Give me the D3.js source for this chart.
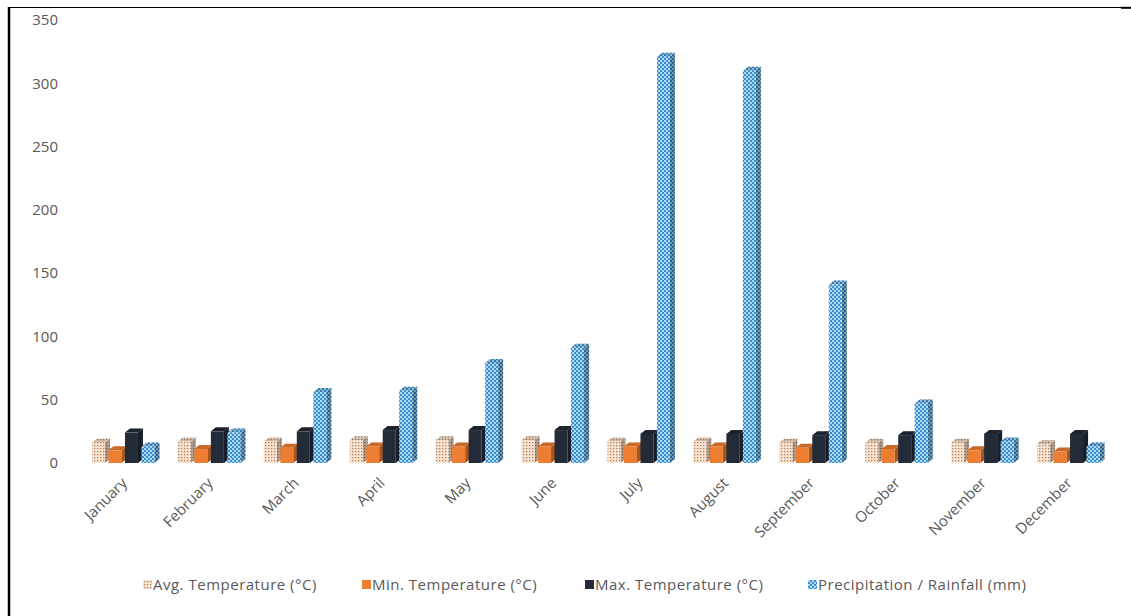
<!DOCTYPE html>
<html>
<head>
<meta charset="utf-8">
<script src="https://cdn.jsdelivr.net/npm/d3@7/dist/d3.min.js"></script>
<style>
  html, body { margin: 0; padding: 0; background: #ffffff; }
  svg { display: block; font-family: "Open Sans", "Noto Sans", sans-serif; }
</style>
</head>
<body>
<svg id="chart" width="1131" height="616"></svg>
<script>
// Monthly climate figures
const months = ["January", "February", "March", "April", "May", "June",
                "July", "August", "September", "October", "November", "December"];
const seriesNames = ["Avg. Temperature (°C)", "Min. Temperature (°C)",
                     "Max. Temperature (°C)", "Precipitation / Rainfall (mm)"];
const avgTemp = [16, 17, 17, 18, 18, 18, 17, 17, 16, 16, 16, 15];
const minTemp = [10, 11, 12, 13, 13, 13, 13, 13, 12, 11, 10, 9];
const maxTemp = [24, 25, 25, 26, 26, 26, 23, 23, 22, 22, 23, 23];
const rainfall = [13, 24, 56, 57, 79, 91, 321, 310, 141, 47, 17, 13];
const yTicks = [0, 50, 100, 150, 200, 250, 300, 350];

const seriesValues = [avgTemp, minTemp, maxTemp, rainfall];

const svg = d3.select("#chart");
const defs = svg.append("defs");

// Fill patterns for the four series
const pAvg = defs.append("pattern").attr("id", "pAvg")
  .attr("patternUnits", "userSpaceOnUse").attr("width", 3).attr("height", 3);
pAvg.append("rect").attr("width", 3).attr("height", 3).attr("fill", "#fbe3cf");
pAvg.append("rect").attr("x", 1).attr("y", 1).attr("width", 1.3).attr("height", 1.3).attr("fill", "#a88466");

const pRain = defs.append("pattern").attr("id", "pRain")
  .attr("patternUnits", "userSpaceOnUse").attr("width", 4).attr("height", 4);
pRain.append("rect").attr("width", 4).attr("height", 4).attr("fill", "#3586c8");
pRain.append("circle").attr("cx", 1).attr("cy", 1).attr("r", 1.2).attr("fill", "#addffa");
pRain.append("circle").attr("cx", 3).attr("cy", 3).attr("r", 1.2).attr("fill", "#addffa");

const fills = ["url(#pAvg)", "#ed7d31", "#232b38", "url(#pRain)"];

// Frame lines
svg.append("line").attr("x1", 9).attr("y1", 7).attr("x2", 9).attr("y2", 616)
  .attr("stroke", "#000").attr("stroke-width", 2.5);
svg.append("line").attr("x1", 8).attr("y1", 7.5).attr("x2", 1121).attr("y2", 7.5)
  .attr("stroke", "#000").attr("stroke-width", 1.2);
svg.append("line").attr("x1", 1121).attr("y1", 7.8).attr("x2", 1131).attr("y2", 7.8)
  .attr("stroke", "#000").attr("stroke-width", 2);

// Scales
const x0 = d3.scaleBand().domain(months).range([82, 1113]).padding(0);
const x1 = d3.scaleBand().domain(d3.range(4)).range([0, 66]).padding(0);
const y = d3.scaleLinear().domain([0, 350]).range([463, 20]);

// Value axis
const yAxis = svg.append("g").attr("transform", "translate(60,0)")
  .call(d3.axisLeft(y).tickValues(yTicks).tickSize(0).tickPadding(2));
yAxis.select(".domain").remove();
yAxis.selectAll("text").attr("fill", "#595959").style("font-size", "15px")
  .style("font-family", "'Open Sans', sans-serif");

// 3D columns
const dx = 5, dy = 4;
const fw = x1.bandwidth() - 3.5;
const inner = (x0.bandwidth() - 66) / 2;
const y0 = y(0);

const bars = [];
months.forEach((m, mi) => {
  seriesValues.forEach((vals, si) => {
    bars.push({ month: m, s: si, v: vals[mi] });
  });
});

const g = svg.append("g");
const bar = g.selectAll("g.bar").data(bars).join("g").attr("class", "bar");

function bx(d) { return x0(d.month) + inner + x1(d.s); }
function sidePath(d) {
  const x = bx(d) + fw, t = y(d.v);
  return `M${x},${t}L${x + dx},${t - dy}L${x + dx},${y0 - dy}L${x},${y0}Z`;
}
function topPath(d) {
  const x = bx(d), t = y(d.v);
  return `M${x},${t}L${x + dx},${t - dy}L${x + fw + dx},${t - dy}L${x + fw},${t}Z`;
}

// side face
bar.append("path").attr("d", sidePath).attr("fill", d => fills[d.s]);
bar.append("path").attr("d", sidePath).attr("fill", "#000").attr("opacity", 0.3);

// top face
bar.append("path").attr("d", topPath).attr("fill", d => fills[d.s]);
bar.append("path").attr("d", topPath).attr("fill", "#000").attr("opacity", 0.15);

// front face
bar.append("rect")
  .attr("x", d => bx(d)).attr("y", d => y(d.v))
  .attr("width", fw).attr("height", d => y0 - y(d.v))
  .attr("fill", d => fills[d.s]);

// Category labels, rotated
svg.append("g").selectAll("text").data(months).join("text")
  .attr("transform", d => `translate(${x0(d) + x0.bandwidth() / 2 + 3},${484}) rotate(-45)`)
  .attr("text-anchor", "end")
  .attr("fill", "#595959")
  .style("font-size", "15px")
  .text(d => d);

// Legend
const legendX = [143, 362, 585, 808];
const lg = svg.append("g").selectAll("g").data(seriesNames).join("g")
  .attr("transform", (d, i) => `translate(${legendX[i]},${580})`);
lg.append("rect").attr("width", 9).attr("height", 9).attr("fill", (d, i) => fills[i]);
lg.append("text").attr("x", 10).attr("y", 10)
  .attr("fill", "#595959").style("font-size", "15px").style("letter-spacing", "0.5px")
  .text(d => d);
</script>
</body>
</html>
